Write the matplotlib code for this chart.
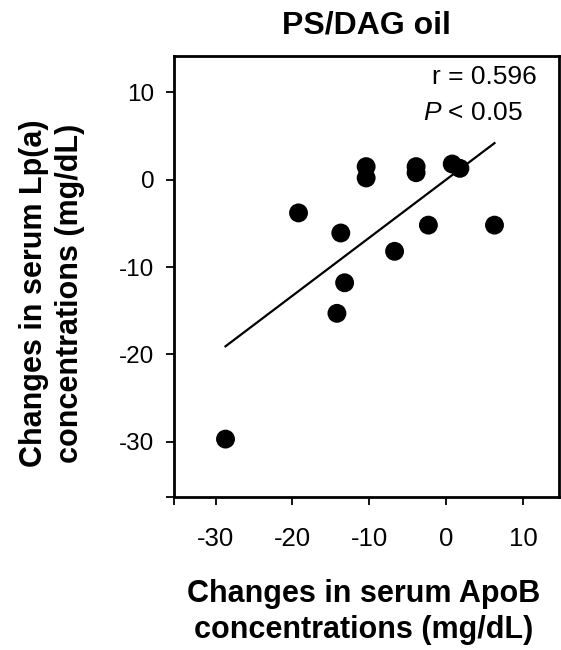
import numpy as np
import matplotlib
matplotlib.use("Agg")
import matplotlib.pyplot as plt

plt.rcParams['font.family'] = ['Liberation Sans', 'DejaVu Sans']
plt.rcParams['mathtext.fontset'] = 'custom'
plt.rcParams['mathtext.rm'] = 'Liberation Sans'
plt.rcParams['mathtext.it'] = 'Liberation Sans:italic'

# change in ApoB (x) vs change in Lp(a) (y), mg/dL
apob_change = [-28.7, -19.2, -13.7, -13.2, -14.2, -10.4, -10.4, -6.7,
               -3.9, -3.9, -2.3, 0.8, 1.8, 6.3]
lpa_change = [-29.7, -3.8, -6.1, -11.8, -15.3, 1.5, 0.2, -8.2,
              1.5, 0.8, -5.2, 1.8, 1.3, -5.2]

x_ticks = [-30, -20, -10, 0, 10]
y_ticks = [10, 0, -10, -20, -30]
x_lim = (-35.4, 14.7)
y_lim = (-36.3, 14.2)

r_value = 0.596

x = np.array(apob_change)
y = np.array(lpa_change)
slope, intercept = np.polyfit(x, y, 1)
xfit = np.array([x.min(), x.max()])

fig = plt.figure(figsize=(5.61, 6.5), dpi=100)
ax = fig.add_axes([0.3102, 0.2358, 0.6863, 0.6785])

ax.plot(xfit, slope * xfit + intercept, color='black', lw=1.6, zorder=2)
ax.scatter(x, y, s=185, color='black', edgecolors='none', zorder=3)

ax.set_xlim(*x_lim)
ax.set_ylim(*y_lim)

# unlabeled ticks at the lower limits, like the corner marks
ax.set_xticks([x_lim[0]] + x_ticks)
ax.set_xticklabels([''] + [str(t) for t in x_ticks])
ax.set_yticks([y_lim[0]] + y_ticks)
ax.set_yticklabels([''] + [str(t) for t in y_ticks])

ax.tick_params(axis='x', direction='out', length=6, width=1.3,
               labelsize=18.5, pad=16)
ax.tick_params(axis='y', direction='out', length=6, width=1.3,
               labelsize=17.5, pad=8)
for sp in ax.spines.values():
    sp.set_linewidth(2.0)

ax.text(0.943, 0.952, f'r = {r_value}', transform=ax.transAxes,
        ha='right', va='center', fontsize=19)
ax.text(0.906, 0.871, r'$\mathit{P}$ < 0.05', transform=ax.transAxes,
        ha='right', va='center', fontsize=19)

fig.text(0.653, 0.9615, 'PS/DAG oil', ha='center', va='center',
         fontsize=23, fontweight='bold')
fig.text(0.649, 0.058, 'Changes in serum ApoB\nconcentrations (mg/dL)',
         ha='center', va='center', ma='center', fontsize=22,
         fontweight='bold', linespacing=1.27)
fig.text(0.092, 0.549, 'Changes in serum Lp(a)\nconcentrations (mg/dL)',
         ha='center', va='center', ma='center', rotation=90, fontsize=22,
         fontweight='bold', linespacing=1.27)

fig.savefig('out.png', dpi=100, facecolor='white')
